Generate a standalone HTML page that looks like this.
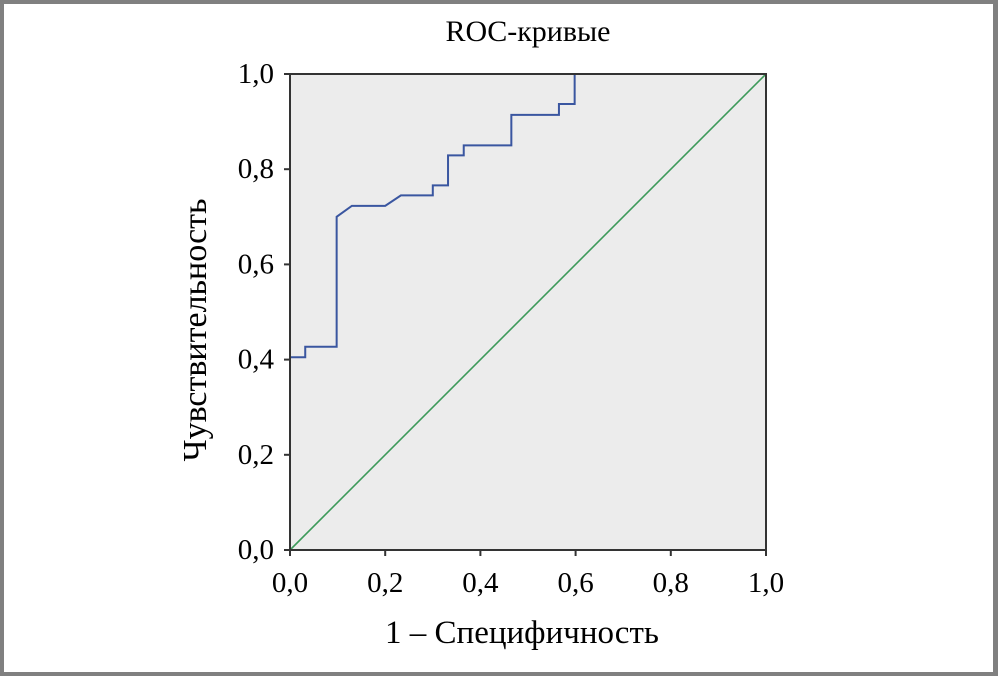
<!DOCTYPE html>
<html><head><meta charset="utf-8"><style>
html,body{margin:0;padding:0;background:#fff}
svg{display:block}
text{font-family:"Liberation Serif",serif;fill:#000}
</style></head><body>
<svg width="998" height="676" viewBox="0 0 998 676">
<rect x="0" y="0" width="998" height="676" fill="#808080"/>
<rect x="4" y="4" width="989" height="668" fill="#fff"/>
<text x="528" y="41" font-size="30" text-anchor="middle">ROC-кривые</text>
<rect x="290" y="74" width="476" height="476" fill="#ececec"/>
<g id="ticks"></g>
<line id="diag" stroke="#3d9a5a" stroke-width="1.6"/>
<polyline id="roc" fill="none" stroke="#3a56a0" stroke-width="2"/>
<rect x="290" y="74" width="476" height="476" fill="none" stroke="#333" stroke-width="2"/>
<text x="522" y="643" font-size="33" text-anchor="middle">1 – Специфичность</text>
<text transform="translate(206,330) rotate(-90)" font-size="34" text-anchor="middle">Чувствительность</text>
</svg>
<script>
const tickValues = [0, 0.2, 0.4, 0.6, 0.8, 1.0];
const tickLabels = ["0,0", "0,2", "0,4", "0,6", "0,8", "1,0"];
const fprValues = [0, 0.032, 0.032, 0.098, 0.098, 0.13, 0.2, 0.233, 0.30, 0.30, 0.332, 0.332, 0.365, 0.365, 0.465, 0.465, 0.565, 0.565, 0.598, 0.598, 1.0];
const tprValues = [0.405, 0.405, 0.427, 0.427, 0.70, 0.723, 0.723, 0.745, 0.745, 0.766, 0.766, 0.829, 0.829, 0.85, 0.85, 0.914, 0.914, 0.937, 0.937, 1.0, 1.0];
const X0 = 290, X1 = 766, Y0 = 550, Y1 = 74;
function sx(v){ return X0 + v * (X1 - X0); }
function sy(v){ return Y0 - v * (Y0 - Y1); }
const NS = "http://www.w3.org/2000/svg";
const g = document.getElementById('ticks');
tickValues.forEach((v, i) => {
  const tx = document.createElementNS(NS, 'line');
  tx.setAttribute('x1', sx(v)); tx.setAttribute('x2', sx(v));
  tx.setAttribute('y1', Y0); tx.setAttribute('y2', Y0 + 6);
  tx.setAttribute('stroke', '#333'); tx.setAttribute('stroke-width', '2');
  
  
  g.appendChild(tx);
  const lx = document.createElementNS(NS, 'text');
  lx.setAttribute('x', sx(v)); lx.setAttribute('y', Y0 + 42);
  lx.setAttribute('font-size', '29'); lx.setAttribute('text-anchor', 'middle');
  lx.textContent = tickLabels[i];
  
  
  g.appendChild(lx);
  const ty = document.createElementNS(NS, 'line');
  ty.setAttribute('x1', X0 - 6); ty.setAttribute('x2', X0);
  ty.setAttribute('y1', sy(v)); ty.setAttribute('y2', sy(v));
  ty.setAttribute('stroke', '#333'); ty.setAttribute('stroke-width', '2');
  
  
  g.appendChild(ty);
  const ly = document.createElementNS(NS, 'text');
  ly.setAttribute('x', X0 - 16); ly.setAttribute('y', sy(v) + 9);
  ly.setAttribute('font-size', '29'); ly.setAttribute('text-anchor', 'end');
  ly.textContent = tickLabels[i];
  
  
  g.appendChild(ly);
});
const d = document.getElementById('diag');
d.setAttribute('x1', sx(0)); d.setAttribute('y1', sy(0));
d.setAttribute('x2', sx(1)); d.setAttribute('y2', sy(1));
document.getElementById('roc').setAttribute('points',
  fprValues.map((f, i) => sx(f) + ',' + sy(tprValues[i])).join(' '));
</script>
</body></html>
